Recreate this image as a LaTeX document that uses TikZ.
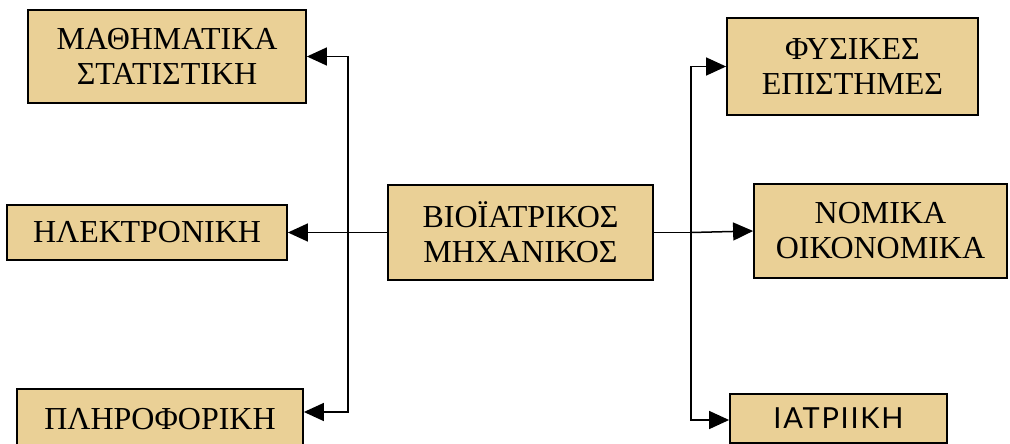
\documentclass[tikz,border=0pt]{standalone}
\usepackage{fontspec}
\setmainfont{Liberation Serif}
\newfontfamily\sansgreek[LetterSpace=6]{Lato}
\usetikzlibrary{arrows.meta}
\definecolor{papyrus}{RGB}{234,208,150}
\tikzset{
  card/.style={draw=black, line width=1.8pt, fill=papyrus, align=center,
    inner sep=0pt, font=\fontsize{32}{35}\selectfont},
  link/.style={line width=1.5pt},
  arrowlink/.style={link, -{Triangle[length=20pt,width=18pt]}},
}
\begin{document}
\begin{tikzpicture}[x=1pt,y=-1pt]
  \useasboundingbox (0,0) rectangle (1010,444);
  % left column
  \node[card, minimum width=278pt, minimum height=93pt] (math) at (167,56.5)
    {ΜΑΘΗΜΑΤΙΚΑ\\ΣΤΑΤΙΣΤΙΚΗ};
  \node[card, minimum width=280pt, minimum height=55pt] (elec) at (147,232.5)
    {ΗΛΕΚΤΡΟΝΙΚΗ};
  \node[card, minimum width=286pt, minimum height=61pt] (info) at (160,419.5)
    {ΠΛΗΡΟΦΟΡΙΚΗ};
  % centre
  \node[card, minimum width=265pt, minimum height=95pt] (bio) at (520.5,232.5)
    {ΒΙΟΪΑΤΡΙΚΟΣ\\ΜΗΧΑΝΙΚΟΣ};
  % right column
  \node[card, minimum width=251pt, minimum height=97pt] (phys) at (852.5,66.5)
    {ΦΥΣΙΚΕΣ\\ΕΠΙΣΤΗΜΕΣ};
  \node[card, minimum width=253pt, minimum height=94pt] (law) at (880.5,231)
    {ΝΟΜΙΚΑ\\ΟΙΚΟΝΟΜΙΚΑ};
  \node[card, minimum width=217pt, minimum height=49pt] (med) at (838.5,418.5)
    {\sansgreek\fontsize{29}{32}\selectfont ΙΑΤΡΙΙΚΗ};
  % branching points
  \coordinate (jl) at (348,232.5);
  \coordinate (jr) at (691,232.5);
  % connectors
  \draw[link] (bio.west) -- (jl);
  \draw[link] (bio.east) -- (jr);
  \draw[arrowlink] (jl) |- (math.east);
  \draw[arrowlink] (jl) -- (elec.east);
  \draw[arrowlink] (jl) |- ([yshift=7.5pt]info.east);
  \draw[arrowlink] (jr) |- (phys.west);
  \draw[arrowlink] (jr) -- (law.west);
  \draw[arrowlink] (jr) |- ([yshift=-1.5pt]med.west);
\end{tikzpicture}
\end{document}
